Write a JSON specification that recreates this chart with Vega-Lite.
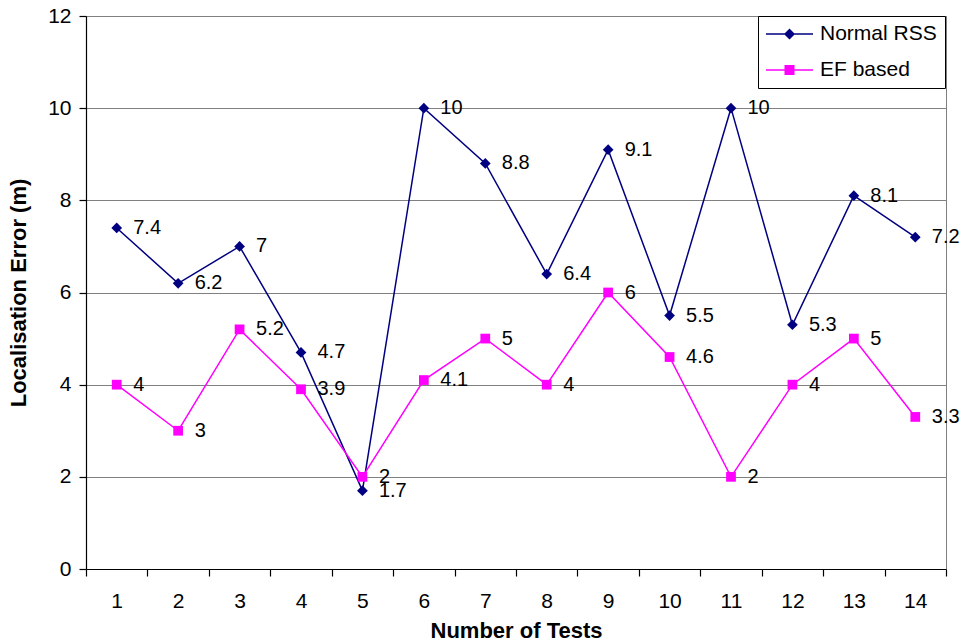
{
  "$schema": "https://vega.github.io/schema/vega-lite/v6.json",
  "width": 860,
  "height": 553,
  "autosize": {"type": "none"},
  "padding": {"left": 86, "top": 16, "right": 17, "bottom": 75},
  "background": "white",
  "config": {
    "font": "Liberation Sans",
    "view": {"stroke": "#808080", "strokeWidth": 1},
    "axis": {
      "labelFont": "Liberation Sans",
      "titleFont": "Liberation Sans",
      "labelColor": "black",
      "titleColor": "black",
      "domainColor": "black",
      "tickColor": "black",
      "domainWidth": 1.2,
      "tickWidth": 1.2
    }
  },
  "data": {
    "values": [
      {"test": 1, "series": "Normal RSS", "value": 7.4},
      {"test": 2, "series": "Normal RSS", "value": 6.2},
      {"test": 3, "series": "Normal RSS", "value": 7},
      {"test": 4, "series": "Normal RSS", "value": 4.7},
      {"test": 5, "series": "Normal RSS", "value": 1.7},
      {"test": 6, "series": "Normal RSS", "value": 10},
      {"test": 7, "series": "Normal RSS", "value": 8.8},
      {"test": 8, "series": "Normal RSS", "value": 6.4},
      {"test": 9, "series": "Normal RSS", "value": 9.1},
      {"test": 10, "series": "Normal RSS", "value": 5.5},
      {"test": 11, "series": "Normal RSS", "value": 10},
      {"test": 12, "series": "Normal RSS", "value": 5.3},
      {"test": 13, "series": "Normal RSS", "value": 8.1},
      {"test": 14, "series": "Normal RSS", "value": 7.2},
      {"test": 1, "series": "EF based", "value": 4},
      {"test": 2, "series": "EF based", "value": 3},
      {"test": 3, "series": "EF based", "value": 5.2},
      {"test": 4, "series": "EF based", "value": 3.9},
      {"test": 5, "series": "EF based", "value": 2},
      {"test": 6, "series": "EF based", "value": 4.1},
      {"test": 7, "series": "EF based", "value": 5},
      {"test": 8, "series": "EF based", "value": 4},
      {"test": 9, "series": "EF based", "value": 6},
      {"test": 10, "series": "EF based", "value": 4.6},
      {"test": 11, "series": "EF based", "value": 2},
      {"test": 12, "series": "EF based", "value": 4},
      {"test": 13, "series": "EF based", "value": 5},
      {"test": 14, "series": "EF based", "value": 3.3}
    ]
  },
  "encoding": {
    "x": {
      "field": "test",
      "type": "quantitative",
      "scale": {"domain": [0.5, 14.5], "nice": false, "zero": false},
      "axis": {
        "values": [0.5, 1.5, 2.5, 3.5, 4.5, 5.5, 6.5, 7.5, 8.5, 9.5, 10.5, 11.5, 12.5, 13.5, 14.5],
        "labelExpr": "datum.value > 14 ? '' : format(datum.value + 0.5, 'd')",
        "labelOffset": 30.71,
        "labelFlush": false,
        "labelOverlap": false,
        "labelBound": false,
        "grid": false,
        "tickSize": 7,
        "labelFontSize": 21,
        "labelPadding": 14,
        "title": "Number of Tests",
        "titleFontSize": 22,
        "titleFontWeight": "bold",
        "titlePadding": 9
      }
    },
    "y": {
      "field": "value",
      "type": "quantitative",
      "scale": {"domain": [0, 12], "nice": false},
      "axis": {
        "values": [0, 2, 4, 6, 8, 10, 12],
        "format": "d",
        "grid": true,
        "gridColor": "#808080",
        "gridWidth": 1,
        "tickSize": 7,
        "labelFontSize": 21,
        "labelPadding": 8,
        "title": "Localisation Error (m)",
        "titleFontSize": 22,
        "titleFontWeight": "bold",
        "titlePadding": 17
      }
    }
  },
  "layer": [
    {
      "mark": {"type": "line", "strokeWidth": 1.5},
      "encoding": {
        "color": {
          "field": "series",
          "type": "nominal",
          "scale": {"domain": ["Normal RSS", "EF based"], "range": ["#000080", "#FF00FF"]},
          "legend": null
        }
      }
    },
    {
      "mark": {"type": "point", "filled": true, "opacity": 1, "strokeWidth": 0},
      "encoding": {
        "color": {
          "field": "series",
          "type": "nominal",
          "scale": {"domain": ["Normal RSS", "EF based"], "range": ["#000080", "#FF00FF"]},
          "legend": null
        },
        "shape": {
          "field": "series",
          "type": "nominal",
          "scale": {"domain": ["Normal RSS", "EF based"], "range": ["diamond", "square"]},
          "legend": null
        },
        "size": {
          "field": "series",
          "type": "nominal",
          "scale": {"domain": ["Normal RSS", "EF based"], "range": [115, 95]},
          "legend": null
        }
      }
    },
    {
      "mark": {"type": "text", "align": "left", "baseline": "middle", "dx": 16.5, "fontSize": 20, "font": "Liberation Sans", "color": "black"},
      "encoding": {
        "text": {"field": "value", "type": "nominal"}
      }
    },
    {
      "transform": [{"filter": "datum.test < 0"}],
      "mark": {"type": "point", "filled": true, "opacity": 1},
      "encoding": {
        "color": {
          "field": "series",
          "type": "nominal",
          "scale": {"domain": ["Normal RSS", "EF based"], "range": ["#000080", "#FF00FF"]},
          "legend": {
            "title": null, "orient": "none", "legendX": 672, "legendY": 0,
            "strokeColor": "black", "fillColor": "white", "padding": 7.5,
            "symbolSize": 400, "symbolOffset": 13.5, "symbolStrokeWidth": 0, "symbolOpacity": 1,
            "labelFontSize": 21, "labelFont": "Liberation Sans", "labelColor": "black",
            "labelOffset": 20, "rowPadding": 14
          }
        },
        "shape": {
          "field": "series",
          "type": "nominal",
          "scale": {
            "domain": ["Normal RSS", "EF based"],
            "range": [
              "M-2.35,-0.07H2.35V0.07H-2.35Z M0,-0.55L0.55,0L0,0.55L-0.55,0Z",
              "M-2.35,-0.07H2.35V0.07H-2.35Z M-0.5,-0.5H0.5V0.5H-0.5Z"
            ]
          },
          "legend": {
            "title": null, "orient": "none", "legendX": 672, "legendY": 0,
            "strokeColor": "black", "fillColor": "white", "padding": 7.5,
            "symbolSize": 400, "symbolOffset": 13.5, "symbolStrokeWidth": 0, "symbolOpacity": 1,
            "labelFontSize": 21, "labelFont": "Liberation Sans", "labelColor": "black",
            "labelOffset": 20, "rowPadding": 14
          }
        }
      }
    }
  ],
  "resolve": {"scale": {"color": "independent", "shape": "independent", "size": "independent"}}
}
